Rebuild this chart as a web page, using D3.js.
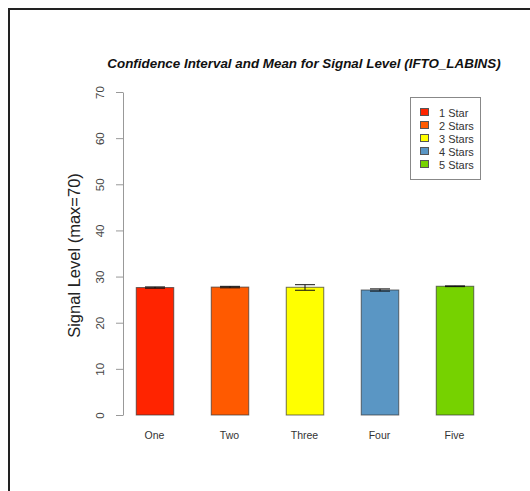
<!DOCTYPE html>
<html>
<head>
<meta charset="utf-8">
<script src="https://cdn.jsdelivr.net/npm/d3@7"></script>
<style>
  html, body { margin: 0; padding: 0; background: #fff; }
  svg { display: block; font-family: "Liberation Sans", Arial, sans-serif; }
</style>
</head>
<body>
<svg id="chart" width="530" height="491"></svg>
<script>
// Mean signal level per rating group with confidence interval bounds
const categories = ["One", "Two", "Three", "Four", "Five"];
const legendLabels = ["1 Star", "2 Stars", "3 Stars", "4 Stars", "5 Stars"];
const means = [27.62, 27.72, 27.68, 27.09, 27.9];
const ciLower = [27.48, 27.56, 27.03, 26.85, 27.82];
const ciUpper = [27.76, 27.88, 28.24, 27.33, 27.98];
const colors = ["#FF2400", "#FF5A00", "#FFFF00", "#5A96C4", "#76D200"];
const yTicks = [0, 10, 20, 30, 40, 50, 60, 70];

const svg = d3.select("#chart");

// outer frame
svg.append("path")
  .attr("d", "M9,491 L9,9 L530,9")
  .attr("fill", "none")
  .attr("stroke", "#222")
  .attr("stroke-width", 2);

const plot = { left: 123, right: 486, top: 92, bottom: 415 };

const x = d3.scaleBand()
  .domain(categories)
  .range([117, 492])
  .paddingInner(0.5)
  .paddingOuter(0.25);

const y = d3.scaleLinear().domain([0, 70]).range([plot.bottom, plot.top]);

// title
svg.append("text")
  .attr("x", 304)
  .attr("y", 68)
  .attr("text-anchor", "middle")
  .attr("font-size", 13.4)
  .attr("font-weight", "bold")
  .attr("font-style", "italic")
  .attr("fill", "#111")
  .text("Confidence Interval and Mean for Signal Level (IFTO_LABINS)");

// y axis
const yAxis = svg.append("g")
  .attr("transform", `translate(${plot.left},0)`)
  .call(d3.axisLeft(y).tickValues(yTicks).tickSize(7).tickSizeOuter(0));
yAxis.select(".domain").attr("stroke", "#999");
yAxis.selectAll(".tick line").attr("stroke", "#999");
yAxis.selectAll(".tick text")
  .attr("font-size", 11.5)
  .attr("fill", "#444")
  .attr("transform", "rotate(-90)")
  .attr("x", 0)
  .attr("y", -23)
  .attr("dy", "0.35em")
  .attr("text-anchor", "middle");

svg.append("text")
  .attr("transform", `translate(80,${(plot.top + plot.bottom) / 2 + 2}) rotate(-90)`)
  .attr("text-anchor", "middle")
  .attr("font-size", 16.5)
  .attr("fill", "#222")
  .text("Signal Level (max=70)");

// bars
svg.append("g").selectAll("rect")
  .data(categories)
  .join("rect")
  .attr("x", d => x(d) + 0.5)
  .attr("y", (d, i) => y(means[i]))
  .attr("width", x.bandwidth())
  .attr("height", (d, i) => y(0) - y(means[i]))
  .attr("fill", (d, i) => colors[i])
  .attr("stroke", "#333")
  .attr("stroke-opacity", 0.7)
  .attr("stroke-width", 1);

// confidence intervals
const ci = svg.append("g").attr("stroke", "#111").attr("stroke-width", 1);
categories.forEach((c, i) => {
  const cx = x(c) + x.bandwidth() / 2 + 0.5;
  const hw = 10;
  ci.append("line").attr("x1", cx).attr("x2", cx)
    .attr("y1", y(ciLower[i])).attr("y2", y(ciUpper[i]));
  ci.append("line").attr("x1", cx - hw).attr("x2", cx + hw)
    .attr("y1", y(ciLower[i])).attr("y2", y(ciLower[i]));
  ci.append("line").attr("x1", cx - hw).attr("x2", cx + hw)
    .attr("y1", y(ciUpper[i])).attr("y2", y(ciUpper[i]));
});

// category labels
svg.append("g").selectAll("text")
  .data(categories)
  .join("text")
  .attr("x", d => x(d) + x.bandwidth() / 2)
  .attr("y", 439)
  .attr("text-anchor", "middle")
  .attr("font-size", 10.5)
  .attr("fill", "#333")
  .text(d => d);

// legend
const lg = svg.append("g").attr("transform", "translate(410,97)");
lg.append("rect")
  .attr("x", 0.5).attr("y", 0.5)
  .attr("width", 70).attr("height", 82)
  .attr("fill", "#fff")
  .attr("stroke", "#888");
legendLabels.forEach((lab, i) => {
  const ry = 16 + i * 13;
  lg.append("rect")
    .attr("x", 10.5).attr("y", ry - 4.5)
    .attr("width", 8).attr("height", 7)
    .attr("fill", colors[i])
    .attr("stroke", "#555");
  lg.append("text")
    .attr("x", 29).attr("y", ry)
    .attr("dy", "0.35em")
    .attr("font-size", 11)
    .attr("fill", "#333")
    .text(lab);
});
</script>
</body>
</html>
